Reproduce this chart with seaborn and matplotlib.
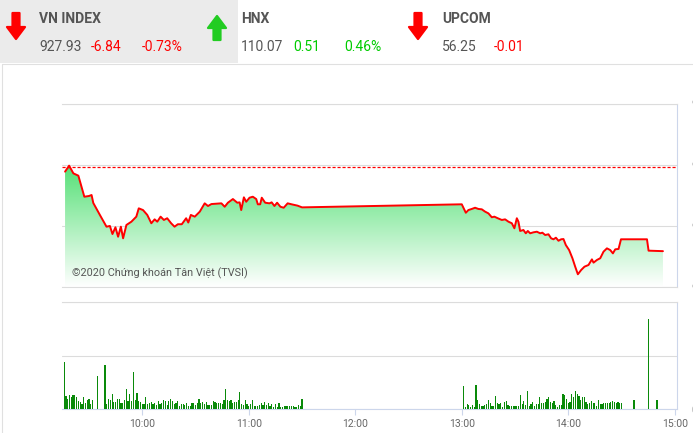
import numpy as np
import pandas as pd
import matplotlib
matplotlib.use('Agg')
import matplotlib.pyplot as plt
from matplotlib.colors import LinearSegmentedColormap
from matplotlib.patches import Polygon, Rectangle
import seaborn as sns

# VN-Index intraday line (decimal hours, index points)
price_time = [9.275, 9.313, 9.353, 9.400, 9.456, 9.500, 9.524, 9.540, 9.602, 9.664,
              9.696, 9.720, 9.748, 9.773, 9.799, 9.820, 9.851, 9.898, 9.944, 9.967,
              10.007, 10.047, 10.085, 10.116, 10.141, 10.172, 10.203, 10.234, 10.271, 10.303,
              10.334, 10.371, 10.412, 10.432, 10.456, 10.493, 10.540, 10.586, 10.617, 10.649,
              10.743, 10.774, 10.804, 10.851, 10.892, 10.914, 10.929, 10.954, 10.976, 11.007,
              11.038, 11.070, 11.085, 11.107, 11.122, 11.154, 11.194, 11.215, 11.241, 11.266,
              11.297, 11.328, 11.365, 11.402, 11.458, 11.500,
              13.000, 13.038, 13.062, 13.094, 13.125, 13.156, 13.188, 13.219, 13.250, 13.282,
              13.306, 13.338, 13.376, 13.407, 13.438, 13.470, 13.494, 13.517, 13.532, 13.548,
              13.579, 13.601, 13.620, 13.642, 13.673, 13.705, 13.736, 13.757, 13.783, 13.814,
              13.839, 13.861, 13.884, 13.908, 13.933, 13.955, 13.977, 14.008, 14.039, 14.065,
              14.090, 14.121, 14.152, 14.190, 14.222, 14.237, 14.269, 14.300, 14.331, 14.363,
              14.394, 14.419, 14.441, 14.472, 14.495, 14.739, 14.754, 14.889]
price_value = [934.43, 934.92, 934.29, 934.10, 932.38, 932.44, 932.52, 931.87, 930.89, 929.93,
               929.99, 929.33, 929.88, 929.11, 929.93, 928.98, 930.07, 930.34, 930.75, 931.43,
               931.29, 930.89, 930.21, 930.53, 930.34, 930.75, 930.48, 930.62, 930.21, 929.93,
               930.13, 930.13, 930.62, 930.27, 930.89, 930.75, 931.16, 931.84, 931.62, 931.78,
               931.84, 931.56, 931.89, 932.19, 931.89, 931.92, 931.29, 932.33, 931.97, 932.30,
               932.38, 932.19, 931.76, 931.76, 932.30, 931.89, 931.84, 931.92, 931.62, 931.89,
               931.56, 931.48, 931.84, 931.76, 931.65, 931.51,
               931.76, 931.07, 931.29, 931.38, 931.48, 931.38, 931.35, 931.16, 931.02, 930.70,
               930.75, 930.62, 930.48, 930.53, 930.34, 930.21, 929.80, 930.62, 930.34, 929.58,
               929.66, 929.39, 929.58, 929.39, 929.47, 929.52, 929.39, 929.44, 929.25, 929.31,
               928.98, 928.90, 929.03, 928.78, 928.90, 928.92, 928.43, 928.02, 927.35, 926.66,
               926.04, 926.39, 926.66, 926.80, 927.26, 926.99, 927.21, 927.35, 927.89, 928.16,
               928.02, 927.75, 928.08, 928.11, 928.90, 928.90, 927.97, 927.93]
prev_close = 934.77

# matched volume per minute (millions), morning starts 09:16, afternoon 13:01
vol_am = [0.44, 0.12, 0.10, 0.13, 0.11, 0.13, 0.13, 0.11, 0.08, 0.07, 0.05, 0.11, 0.06, 0.09, 0.10, 0.05, 0.09,
          0, 0, 0.31, 0, 0, 0,
          0.41, 0.05, 0.10, 0.09, 0.14, 0.07, 0.07, 0.10, 0.10, 0.06,
          0.06, 0.09, 0.19, 0.08, 0.14, 0.08, 0.35, 0.09, 0.15, 0.08,
          0.07, 0.05, 0.05, 0.11, 0.05, 0.06, 0.07, 0.05, 0.06, 0.04,
          0.08, 0.05, 0.06, 0.09, 0.08, 0.04, 0.08, 0.10, 0.08, 0.05,
          0.06, 0.08, 0.03, 0.05, 0.05, 0.04, 0.06, 0.03, 0.03, 0.06,
          0.06, 0.04, 0.06, 0.10, 0.06, 0.07, 0.05, 0.07, 0.04, 0.04,
          0.04, 0.08, 0.07, 0.06, 0.06, 0.06, 0.05, 0.09, 0.19, 0.09,
          0.08, 0.09, 0.06, 0.07, 0.07, 0.09, 0.16, 0.05, 0.04, 0.09,
          0.05, 0.03, 0.05, 0.09, 0.03, 0.03, 0.03, 0.04, 0.06, 0.04,
          0.07, 0.04, 0.06, 0.03, 0.05, 0.025, 0.05, 0.025, 0.06, 0.025,
          0.025, 0.03, 0.03, 0.03, 0.03, 0.03, 0.03, 0.02, 0.02, 0.04,
          0.03, 0.10]
vol_pm = [0.22, 0.025, 0.047, 0.041, 0.019, 0.041, 0.019, 0.23, 0.088, 0.047,
          0.031, 0.031, 0.041, 0.05, 0.088, 0.057, 0.035, 0.035, 0.126, 0.057,
          0.047, 0.063, 0.025, 0.072, 0.082, 0.041, 0.031, 0.031, 0.031, 0.031,
          0.031, 0.031, 0.135, 0.05, 0.082, 0.041, 0.167, 0.031, 0.05, 0.072,
          0.031, 0.05, 0.05, 0.11, 0.057, 0.063, 0.072, 0.094, 0.11, 0.072,
          0.057, 0.082, 0.041, 0.025, 0.041, 0.041, 0.145, 0.135, 0.094, 0.063,
          0.072, 0.145, 0.11, 0.173, 0.145, 0.126, 0.088, 0.11, 0.11, 0.072,
          0.05, 0.063, 0.079, 0.057, 0.063, 0.031, 0.088, 0.05, 0.05, 0.063,
          0.057, 0.057, 0.063, 0.072, 0.082, 0.072, 0.063, 0.072, 0.057, 0.057]
vol_atc_time = ['14:37', '14:43', '14:44', '14:45', '14:50']
vol_atc = [0.088, 0.005, 0.005, 0.843, 0.088]

price_ticks = [925, 930, 935, 940]
vol_ticks = [0, 0.5, 1.0]
vol_tick_labels = ['0', '500K', '1M']
hour_labels = ['10:00', '11:00', '12:00', '13:00', '14:00', '15:00']

# header boxes
idx_names = ['VN INDEX', 'HNX', 'UPCOM']
idx_last = ['927.93', '110.07', '56.25']
idx_change = ['-6.84', '0.51', '-0.01']
idx_pct = ['-0.73%', '0.46%', '']


def to_hours(s):
    h, m = s.split(':')
    return int(h) + int(m) / 60


am_times = pd.date_range('2020-01-01 09:16', periods=len(vol_am), freq='min')
pm_times = pd.date_range('2020-01-01 13:01', periods=len(vol_pm), freq='min')
vol_df = pd.DataFrame({
    'time': [t.hour + t.minute / 60 for t in am_times] + [t.hour + t.minute / 60 for t in pm_times]
            + [to_hours(s) for s in vol_atc_time],
    'volume': vol_am + vol_pm + vol_atc,
})

sns.set_style('white')
plt.rcParams['font.family'] = ['Roboto', 'DejaVu Sans']

W, H = 693, 433
fig = plt.figure(figsize=(W / 100, H / 100), dpi=100)

# background layer in pixel coordinates for the header and frame
bg = fig.add_axes([0, 0, 1, 1], zorder=0)
bg.set_xlim(0, W)
bg.set_ylim(H, 0)
bg.axis('off')
bg.add_patch(Rectangle((0, 0), 238, 63, color='#ebebeb', lw=0))
bg.add_patch(Rectangle((2, 63.5), W + 5, H, fill=False, ec='#e0e0e0', lw=0.8))


def arrow(cx, top, bot, up, color):
    if up:
        pts = [(cx - 3.5, bot), (cx + 3.5, bot), (cx + 3.5, top + 12), (cx + 9, top + 12),
               (cx, top), (cx - 9, top + 12), (cx - 3.5, top + 12)]
    else:
        pts = [(cx - 3.5, top), (cx + 3.5, top), (cx + 3.5, bot - 12), (cx + 9, bot - 12),
               (cx, bot), (cx - 9, bot - 12), (cx - 3.5, bot - 12)]
    bg.add_patch(Polygon(pts, closed=True, fc=color, ec=color, lw=1.6, joinstyle='round'))


arrow(16, 13, 39, False, '#ff0000')
arrow(217, 16, 40, True, '#22cc22')
arrow(418, 13, 39, False, '#ff0000')

hdr_font = ['Roboto', 'DejaVu Sans']
box_x = [39, 241, 442]
for i, name in enumerate(idx_names):
    x0 = box_x[i]
    col = '#ff0000' if idx_change[i].startswith('-') else '#00cc00'
    bg.text(x0, 19, name, fontsize=10, fontweight='bold', color='#555555',
            family=hdr_font, va='center', ha='left')
    bg.text(x0, 47, idx_last[i], fontsize=10, color='#555555', family=hdr_font, va='center')
    bg.text(x0 + 52, 47, idx_change[i], fontsize=10, color=col, family=hdr_font, va='center')
    if idx_pct[i]:
        bg.text(x0 + 103, 47, idx_pct[i], fontsize=10, color=col, family=hdr_font, va='center')

# chart panels
left = 62.4
right = 677
ax1 = fig.add_axes([left / W, (H - 287) / H, (right - left) / W, (287 - 103.5) / H], zorder=2)
ax2 = fig.add_axes([left / W, (H - 409.3) / H, (right - left) / W, (409.3 - 302) / H], zorder=2)
xmax = 9.25 + (right - left) / 106.5

# green gradient fill under the index line
cmap = LinearSegmentedColormap.from_list('fill', ['#ffffff', '#55e076'])
grad = np.linspace(0, 1, 256).reshape(-1, 1)
im = ax1.imshow(grad, extent=[9.25, xmax, 925, max(price_value)], origin='lower',
                aspect='auto', cmap=cmap, zorder=1)
poly = ax1.fill_between(price_time, price_value, 925, color='none', lw=0)
im.set_clip_path(poly.get_paths()[0], transform=ax1.transData)

sns.lineplot(x=price_time, y=price_value, ax=ax1, color='#ff0000', lw=1.4,
             estimator=None, sort=False, zorder=3)
ax1.axhline(prev_close, color='#ff0000', lw=0.9, ls=(0, (2.5, 1.5)), zorder=3)

ax1.set_xlim(9.25, xmax)
ax1.set_ylim(925, 940)
ax1.set_yticks(price_ticks)
ax1.set_yticklabels([str(t) for t in price_ticks])
ax1.yaxis.tick_right()
ax1.set_xticks([])
ax1.grid(axis='y', color='#dcdcdc', lw=0.8)
ax1.tick_params(axis='y', length=0, pad=10.5, labelsize=8.5, labelcolor='#666666')
ax1.set_xlabel('')
ax1.set_ylabel('')
ax1.spines['left'].set_visible(False)
ax1.spines['top'].set_color('#dcdcdc')
ax1.spines['bottom'].set_color('#dcdcdc')
ax1.spines['right'].set_color('#ccd6eb')
for s in ax1.spines.values():
    s.set_linewidth(0.8)
ax1.text(0.016, 0.076, '©2020 Chứng khoán Tân Việt (TVSI)', transform=ax1.transAxes,
         fontsize=7.8, color='#555555', va='center', ha='left', zorder=4)

# volume bars
ax2.bar(vol_df['time'], vol_df['volume'], width=0.011, color='#0a8a0a', lw=0, zorder=3)
ax2.set_xlim(9.25, xmax)
ax2.set_ylim(0, 1.0)
ax2.set_xticks([to_hours(s) for s in hour_labels])
ax2.set_xticklabels(hour_labels)
ax2.set_yticks(vol_ticks)
ax2.set_yticklabels(vol_tick_labels)
ax2.yaxis.tick_right()
ax2.grid(axis='y', color='#dcdcdc', lw=0.8)
ax2.tick_params(axis='y', length=0, pad=10.5, labelsize=8.5, labelcolor='#666666')
ax2.tick_params(axis='x', bottom=True, direction='out', length=4, width=0.8, color='#ccd6eb',
                pad=3, labelsize=7.5, labelcolor='#666666')
ax2.spines['left'].set_visible(False)
ax2.spines['top'].set_color('#dcdcdc')
ax2.spines['bottom'].set_color('#ccd6eb')
ax2.spines['right'].set_color('#ccd6eb')
for s in ax2.spines.values():
    s.set_linewidth(0.8)

fig.savefig('out.png', dpi=100)
